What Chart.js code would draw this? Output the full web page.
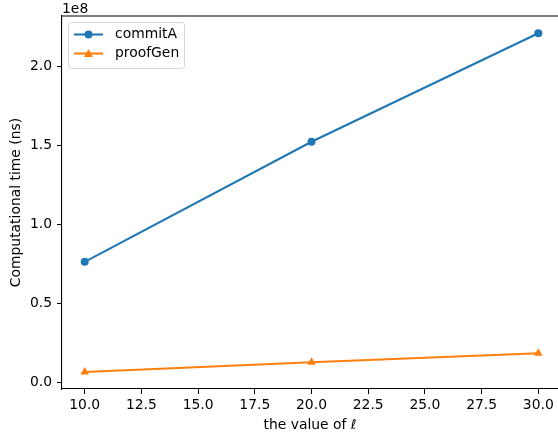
<!DOCTYPE html>
<html lang="en">
<head>
    <meta charset="UTF-8">
    <title>Computational time</title>
    <style>
        html, body { margin: 0; padding: 0; overflow: hidden; background: #fff; }
        #wrap { width: 566px; height: 436px; }
    </style>
</head>
<body>
    <div id="wrap">
        <canvas id="myChart" width="566" height="436"></canvas>
    </div>

    <script src="https://cdn.jsdelivr.net/npm/chart.js"></script>

    <script>
        // values
        let ells = [10, 20, 30];
        let commitA = [76400000, 152300000, 220800000];
        let proofGen = [6800000, 13000000, 18700000];

        let xTicks = [10, 12.5, 15, 17.5, 20, 22.5, 25, 27.5, 30];
        let yTicks = [0, 50000000, 100000000, 150000000, 200000000];

        const FONT = 'DejaVu Sans';
        const FS = 13.9;   // 10pt at 100 dpi

        function toPoints(ys) {
            return ells.map((x, i) => ({ x: x, y: ys[i] }));
        }

        // matplotlib-like legend, top spine, offset text and x title
        const extras = {
            id: 'extras',
            afterDraw(chart) {
                const ctx = chart.ctx;
                const area = chart.chartArea;
                ctx.save();

                // top spine
                ctx.strokeStyle = '#000';
                ctx.lineWidth = 1.1;
                ctx.beginPath();
                ctx.moveTo(area.left, area.top);
                ctx.lineTo(area.right, area.top);
                ctx.stroke();

                // offset text "1e8"
                ctx.fillStyle = '#000';
                ctx.font = FS + 'px ' + FONT;
                ctx.textAlign = 'left';
                ctx.textBaseline = 'alphabetic';
                ctx.fillText('1e8', area.left, area.top - 3);

                // x title with italic ell
                const part1 = 'the value of ';
                const part2 = '\u2113';
                ctx.font = FS + 'px ' + FONT;
                let w1 = ctx.measureText(part1).width;
                ctx.font = 'italic ' + FS + 'px ' + FONT;
                let w2 = ctx.measureText(part2).width;
                let sx = 310 - (w1 + w2) / 2;
                ctx.font = FS + 'px ' + FONT;
                ctx.fillText(part1, sx, 429);
                ctx.font = 'italic ' + FS + 'px ' + FONT;
                ctx.fillText(part2, sx + w1, 429);

                // legend box
                let bx = 68.5, by = 22.5, bw = 116, bh = 46, r = 3;
                ctx.beginPath();
                ctx.moveTo(bx + r, by);
                ctx.lineTo(bx + bw - r, by);
                ctx.quadraticCurveTo(bx + bw, by, bx + bw, by + r);
                ctx.lineTo(bx + bw, by + bh - r);
                ctx.quadraticCurveTo(bx + bw, by + bh, bx + bw - r, by + bh);
                ctx.lineTo(bx + r, by + bh);
                ctx.quadraticCurveTo(bx, by + bh, bx, by + bh - r);
                ctx.lineTo(bx, by + r);
                ctx.quadraticCurveTo(bx, by, bx + r, by);
                ctx.closePath();
                ctx.fillStyle = 'rgba(255,255,255,0.8)';
                ctx.fill();
                ctx.strokeStyle = '#d6d6d6';
                ctx.lineWidth = 1;
                ctx.stroke();

                chart.data.datasets.forEach((ds, i) => {
                    let ly = 34.5 + i * 19;
                    ctx.strokeStyle = ds.borderColor;
                    ctx.lineWidth = 2.1;
                    ctx.beginPath();
                    ctx.moveTo(74, ly);
                    ctx.lineTo(103, ly);
                    ctx.stroke();
                    ctx.fillStyle = ds.borderColor;
                    if (ds.pointStyle === 'triangle') {
                        ctx.beginPath();
                        ctx.moveTo(88.5, ly - 4.5);
                        ctx.lineTo(93, ly + 3.5);
                        ctx.lineTo(84, ly + 3.5);
                        ctx.closePath();
                        ctx.fill();
                    } else {
                        ctx.beginPath();
                        ctx.arc(88.5, ly, 4, 0, Math.PI * 2);
                        ctx.fill();
                    }
                    ctx.fillStyle = '#000';
                    ctx.font = FS + 'px ' + FONT;
                    ctx.textBaseline = 'middle';
                    ctx.fillText(ds.label, 115, ly);
                });

                ctx.restore();
            }
        };

        function showChart() {
            const ctx = document.getElementById('myChart');

            let datasets = [
                {
                    label: 'commitA',
                    data: toPoints(commitA),
                    borderColor: '#1f77b4',
                    backgroundColor: '#1f77b4',
                    borderWidth: 2.1,
                    pointStyle: 'circle',
                    pointRadius: 4,
                    pointBorderWidth: 0,
                },
                {
                    label: 'proofGen',
                    data: toPoints(proofGen),
                    borderColor: '#ff7f0e',
                    backgroundColor: '#ff7f0e',
                    borderWidth: 2.1,
                    pointStyle: 'triangle',
                    pointRadius: 5,
                    pointBorderWidth: 0,
                },
            ];

            let options = {
                responsive: false,
                animation: false,
                layout: { padding: { left: 0, top: 16, right: 4, bottom: 0 } },
                plugins: {
                    legend: { display: false },
                    tooltip: { enabled: false },
                },
                scales: {
                    x: {
                        type: 'linear',
                        min: 9,
                        max: 31,
                        afterBuildTicks: (axis) => { axis.ticks = xTicks.map(v => ({ value: v })); },
                        afterFit: (axis) => { axis.height = 47; },
                        grid: {
                            drawOnChartArea: false,
                            drawTicks: true,
                            tickLength: 5,
                            tickColor: '#000',
                        },
                        border: { color: '#000', width: 1.1 },
                        ticks: {
                            color: '#000',
                            padding: 3,
                            maxRotation: 0,
                            font: { family: FONT, size: FS },
                            callback: (v) => v.toFixed(1),
                        },
                    },
                    y: {
                        type: 'linear',
                        min: -3900000,
                        max: 231700000,
                        afterBuildTicks: (axis) => { axis.ticks = yTicks.map(v => ({ value: v })); },
                        afterFit: (axis) => { axis.width = 62; },
                        grid: {
                            drawOnChartArea: false,
                            drawTicks: true,
                            tickLength: 5,
                            tickColor: '#000',
                        },
                        border: { color: '#000', width: 1.1 },
                        ticks: {
                            color: '#000',
                            padding: 5,
                            font: { family: FONT, size: FS },
                            callback: (v) => (v / 1e8).toFixed(1),
                        },
                        title: {
                            display: true,
                            text: 'Computational time (ns)',
                            color: '#000',
                            font: { family: FONT, size: FS },
                            padding: { top: 8.5, bottom: 0 },
                        },
                    },
                },
            };

            new Chart(ctx, {
                type: 'line',
                data: { datasets: datasets },
                options: options,
                plugins: [extras],
            });
        }

        showChart();
    </script>
</body>
</html>
